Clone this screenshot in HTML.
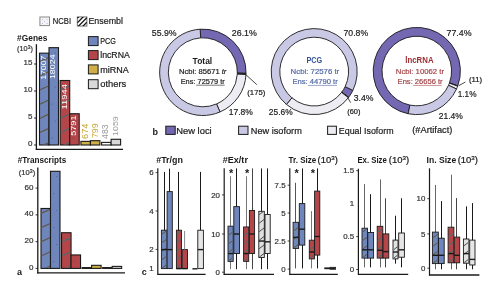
<!DOCTYPE html>
<html><head><meta charset="utf-8"><style>
html,body{margin:0;padding:0;background:#fff;}
body{width:499px;height:296px;overflow:hidden;}
svg{display:block;font-family:"Liberation Sans",sans-serif;}
</style></head><body>
<svg width="499" height="296" viewBox="0 0 499 296">
<rect width="499" height="296" fill="#fff"/>
<rect x="39.9" y="17" width="9.6" height="8.6" fill="#f4f4f6" stroke="#8a8a8a" stroke-width="1"/>
<circle cx="42.3" cy="19.4" r="0.45" fill="#8080c0"/>
<circle cx="47.1" cy="19.4" r="0.45" fill="#8080c0"/>
<circle cx="44.7" cy="21.3" r="0.45" fill="#8080c0"/>
<circle cx="42.3" cy="23.2" r="0.45" fill="#8080c0"/>
<circle cx="47.1" cy="23.2" r="0.45" fill="#8080c0"/>
<text x="52.8" y="23.9" font-size="9.4" font-weight="normal" fill="#1a1a1a" text-anchor="start" stroke="#1a1a1a" stroke-width="0.2" textLength="18.2" lengthAdjust="spacingAndGlyphs">NCBI</text>
<rect x="77.3" y="16.9" width="9.6" height="9.2" fill="#ffffff" stroke="#666" stroke-width="0.9"/>
<clipPath id="c8"><rect x="77.3" y="16.9" width="9.6" height="9.2"/></clipPath>
<g clip-path="url(#c8)" stroke="#111" stroke-width="1.3" stroke-opacity="1">
<line x1="77.3" y1="18.3" x2="86.9" y2="8.7"/>
<line x1="77.3" y1="22.8" x2="86.9" y2="13.2"/>
<line x1="77.3" y1="27.3" x2="86.9" y2="17.7"/>
<line x1="77.3" y1="31.8" x2="86.9" y2="22.2"/>
<line x1="77.3" y1="36.3" x2="86.9" y2="26.7"/>
</g>
<text x="88.4" y="23.9" font-size="9.4" font-weight="normal" fill="#1a1a1a" text-anchor="start" stroke="#1a1a1a" stroke-width="0.2" textLength="34.6" lengthAdjust="spacingAndGlyphs">Ensembl</text>
<rect x="88.4" y="36.6" width="9.7" height="9" fill="#6e86bb" stroke="#1a1a1a" stroke-width="1"/>
<text x="100.2" y="43.8" font-size="9.4" font-weight="normal" fill="#1a1a1a" text-anchor="start" stroke="#1a1a1a" stroke-width="0.2" textLength="15.7" lengthAdjust="spacingAndGlyphs">PCG</text>
<rect x="88.4" y="50.6" width="9.7" height="9" fill="#b4464a" stroke="#1a1a1a" stroke-width="1"/>
<text x="100.2" y="57.8" font-size="9.4" font-weight="normal" fill="#1a1a1a" text-anchor="start" stroke="#1a1a1a" stroke-width="0.2" textLength="29.6" lengthAdjust="spacingAndGlyphs">lncRNA</text>
<rect x="88.4" y="64.9" width="9.7" height="9" fill="#cfae45" stroke="#1a1a1a" stroke-width="1"/>
<text x="100.2" y="72.8" font-size="9.4" font-weight="normal" fill="#1a1a1a" text-anchor="start" stroke="#1a1a1a" stroke-width="0.2" textLength="28.5" lengthAdjust="spacingAndGlyphs">miRNA</text>
<rect x="88.4" y="79.7" width="9.7" height="9" fill="#d9d9d9" stroke="#1a1a1a" stroke-width="1"/>
<text x="100.2" y="87.4" font-size="9.4" font-weight="normal" fill="#1a1a1a" text-anchor="start" stroke="#1a1a1a" stroke-width="0.2" textLength="26" lengthAdjust="spacingAndGlyphs">others</text>
<text x="17.1" y="41.3" font-size="8.9" font-weight="bold" fill="#1a1a1a" text-anchor="start" textLength="30.3" lengthAdjust="spacingAndGlyphs">#Genes</text>
<text x="17.1" y="51" font-size="7.8" font-weight="normal" fill="#333" text-anchor="start" stroke="#333" stroke-width="0.2" textLength="15.8" lengthAdjust="spacingAndGlyphs">(10<tspan font-size="5.4" dy="-2.0">3</tspan><tspan dy="2.0">)</tspan></text>
<line x1="36.4" y1="44.2" x2="36.4" y2="149.9" stroke="#1a1a1a" stroke-width="1.3"/>
<line x1="35.8" y1="149.3" x2="123" y2="149.3" stroke="#1a1a1a" stroke-width="1.3"/>
<line x1="34" y1="64" x2="36.2" y2="64" stroke="#1a1a1a" stroke-width="0.9"/>
<text x="32.4" y="65.1" font-size="8.0" font-weight="normal" fill="#333" text-anchor="end" stroke="#333" stroke-width="0.2">15</text>
<line x1="34" y1="91" x2="36.2" y2="91" stroke="#1a1a1a" stroke-width="0.9"/>
<text x="32.4" y="92.1" font-size="8.0" font-weight="normal" fill="#333" text-anchor="end" stroke="#333" stroke-width="0.2">10</text>
<line x1="34" y1="118" x2="36.2" y2="118" stroke="#1a1a1a" stroke-width="0.9"/>
<text x="32.4" y="119.1" font-size="8.0" font-weight="normal" fill="#333" text-anchor="end" stroke="#333" stroke-width="0.2">5</text>
<line x1="34" y1="145" x2="36.2" y2="145" stroke="#1a1a1a" stroke-width="0.9"/>
<text x="32.4" y="146.1" font-size="8.0" font-weight="normal" fill="#333" text-anchor="end" stroke="#333" stroke-width="0.2">0</text>
<rect x="39.5" y="53.16" width="9.5" height="91.84" fill="#6e86bb" stroke="#1a1a1a" stroke-width="1.1"/>
<clipPath id="c38"><rect x="40.05" y="53.71" width="8.4" height="90.74"/></clipPath>
<g clip-path="url(#c38)" stroke="#c8c8c8" stroke-width="1.15" stroke-opacity="0.7" style="mix-blend-mode:difference">
<line x1="39.5" y1="61.7" x2="49" y2="57.3"/>
<line x1="39.5" y1="75.9" x2="49" y2="71.5"/>
<line x1="39.5" y1="90.1" x2="49" y2="85.7"/>
<line x1="39.5" y1="104.3" x2="49" y2="99.9"/>
<line x1="39.5" y1="118.5" x2="49" y2="114.1"/>
<line x1="39.5" y1="132.7" x2="49" y2="128.3"/>
<line x1="39.5" y1="146.9" x2="49" y2="142.5"/>
</g>
<rect x="49" y="47.67" width="9.5" height="97.33" fill="#6e86bb" stroke="#1a1a1a" stroke-width="1.1"/>
<circle cx="52.33" cy="138" r="0.5" fill="#334" fill-opacity="0.55"/>
<circle cx="55.17" cy="121" r="0.5" fill="#334" fill-opacity="0.55"/>
<circle cx="52.33" cy="104" r="0.5" fill="#334" fill-opacity="0.55"/>
<circle cx="55.17" cy="87" r="0.5" fill="#334" fill-opacity="0.55"/>
<circle cx="52.33" cy="70" r="0.5" fill="#334" fill-opacity="0.55"/>
<circle cx="55.17" cy="53" r="0.5" fill="#334" fill-opacity="0.55"/>
<rect x="60.2" y="80.5" width="9.5" height="64.5" fill="#b4464a" stroke="#1a1a1a" stroke-width="1.1"/>
<clipPath id="c56"><rect x="60.75" y="81.05" width="8.4" height="63.4"/></clipPath>
<g clip-path="url(#c56)" stroke="#c8c8c8" stroke-width="1.15" stroke-opacity="0.7" style="mix-blend-mode:difference">
<line x1="60.2" y1="90.1" x2="69.7" y2="85.7"/>
<line x1="60.2" y1="104.3" x2="69.7" y2="99.9"/>
<line x1="60.2" y1="118.5" x2="69.7" y2="114.1"/>
<line x1="60.2" y1="132.7" x2="69.7" y2="128.3"/>
<line x1="60.2" y1="146.9" x2="69.7" y2="142.5"/>
</g>
<rect x="69.7" y="113.73" width="9.5" height="31.27" fill="#b4464a" stroke="#1a1a1a" stroke-width="1.1"/>
<circle cx="73.03" cy="138" r="0.5" fill="#334" fill-opacity="0.55"/>
<circle cx="75.88" cy="121" r="0.5" fill="#334" fill-opacity="0.55"/>
<rect x="80.9" y="141.36" width="9.5" height="3.64" fill="#cfae45" stroke="#1a1a1a" stroke-width="1.1"/>
<rect x="90.4" y="140.69" width="9.5" height="4.31" fill="#cfae45" stroke="#1a1a1a" stroke-width="1.1"/>
<rect x="101.6" y="142.39" width="9.5" height="2.61" fill="#fafafa" stroke="#1a1a1a" stroke-width="1.1"/>
<rect x="111.1" y="139.28" width="9.5" height="5.72" fill="#d9d9d9" stroke="#1a1a1a" stroke-width="1.1"/>
<text transform="translate(45.8,79.8) rotate(-90)" x="0" y="0" font-size="7.4" fill="#ffffff" textLength="24.2" lengthAdjust="spacingAndGlyphs">17007</text>
<text transform="translate(55.2,79.1) rotate(-90)" x="0" y="0" font-size="7.4" fill="#ffffff" textLength="24.7" lengthAdjust="spacingAndGlyphs">18024</text>
<text transform="translate(67.2,109.4) rotate(-90)" x="0" y="0" font-size="7.4" fill="#ffffff" textLength="25.3" lengthAdjust="spacingAndGlyphs">11944</text>
<text transform="translate(76.3,135.8) rotate(-90)" x="0" y="0" font-size="7.4" fill="#ffffff" textLength="20.3" lengthAdjust="spacingAndGlyphs">5791</text>
<text transform="translate(88,138.9) rotate(-90)" x="0" y="0" font-size="8.6" fill="#c9a93a" textLength="15.4" lengthAdjust="spacingAndGlyphs">674</text>
<text transform="translate(97.8,138.1) rotate(-90)" x="0" y="0" font-size="8.6" fill="#c9a93a" textLength="14.6" lengthAdjust="spacingAndGlyphs">799</text>
<text transform="translate(108,138.9) rotate(-90)" x="0" y="0" font-size="8.6" fill="#9a9a9a" textLength="14.6" lengthAdjust="spacingAndGlyphs">483</text>
<text transform="translate(117.7,136) rotate(-90)" x="0" y="0" font-size="8.0" fill="#9a9a9a" textLength="19.8" lengthAdjust="spacingAndGlyphs">1059</text>
<text x="17.7" y="162.9" font-size="8.9" font-weight="bold" fill="#1a1a1a" text-anchor="start" textLength="48.5" lengthAdjust="spacingAndGlyphs">#Transcripts</text>
<text x="18.8" y="175.2" font-size="7.8" font-weight="normal" fill="#333" text-anchor="start" stroke="#333" stroke-width="0.2" textLength="16.4" lengthAdjust="spacingAndGlyphs">(10<tspan font-size="5.4" dy="-2.0">3</tspan><tspan dy="2.0">)</tspan></text>
<line x1="37.8" y1="167.4" x2="37.8" y2="273.4" stroke="#1a1a1a" stroke-width="1.3"/>
<line x1="37.2" y1="272.8" x2="125" y2="272.8" stroke="#1a1a1a" stroke-width="1.3"/>
<line x1="35.6" y1="188.12" x2="37.8" y2="188.12" stroke="#1a1a1a" stroke-width="0.9"/>
<text x="33.4" y="189.62" font-size="8.0" font-weight="normal" fill="#333" text-anchor="end" stroke="#333" stroke-width="0.2">60</text>
<line x1="35.6" y1="214.88" x2="37.8" y2="214.88" stroke="#1a1a1a" stroke-width="0.9"/>
<text x="33.4" y="216.38" font-size="8.0" font-weight="normal" fill="#333" text-anchor="end" stroke="#333" stroke-width="0.2">40</text>
<line x1="35.6" y1="241.64" x2="37.8" y2="241.64" stroke="#1a1a1a" stroke-width="0.9"/>
<text x="33.4" y="243.14" font-size="8.0" font-weight="normal" fill="#333" text-anchor="end" stroke="#333" stroke-width="0.2">20</text>
<line x1="35.6" y1="268.4" x2="37.8" y2="268.4" stroke="#1a1a1a" stroke-width="0.9"/>
<text x="33.4" y="269.9" font-size="8.0" font-weight="normal" fill="#333" text-anchor="end" stroke="#333" stroke-width="0.2">0</text>
<rect x="41" y="208.47" width="9.5" height="59.93" fill="#6e86bb" stroke="#1a1a1a" stroke-width="1.1"/>
<clipPath id="c92"><rect x="41.55" y="209.02" width="8.4" height="58.83"/></clipPath>
<g clip-path="url(#c92)" stroke="#c8c8c8" stroke-width="1.15" stroke-opacity="0.7" style="mix-blend-mode:difference">
<line x1="41" y1="213.5" x2="50.5" y2="209.1"/>
<line x1="41" y1="227.7" x2="50.5" y2="223.3"/>
<line x1="41" y1="241.9" x2="50.5" y2="237.5"/>
<line x1="41" y1="256.1" x2="50.5" y2="251.7"/>
<line x1="41" y1="270.3" x2="50.5" y2="265.9"/>
</g>
<rect x="50.5" y="171.29" width="9.5" height="97.11" fill="#6e86bb" stroke="#1a1a1a" stroke-width="1.1"/>
<circle cx="53.83" cy="261.4" r="0.5" fill="#334" fill-opacity="0.55"/>
<circle cx="56.67" cy="244.4" r="0.5" fill="#334" fill-opacity="0.55"/>
<circle cx="53.83" cy="227.4" r="0.5" fill="#334" fill-opacity="0.55"/>
<circle cx="56.67" cy="210.4" r="0.5" fill="#334" fill-opacity="0.55"/>
<circle cx="53.83" cy="193.4" r="0.5" fill="#334" fill-opacity="0.55"/>
<circle cx="56.67" cy="176.4" r="0.5" fill="#334" fill-opacity="0.55"/>
<rect x="61.55" y="232.73" width="9.5" height="35.67" fill="#b4464a" stroke="#1a1a1a" stroke-width="1.1"/>
<clipPath id="c108"><rect x="62.1" y="233.28" width="8.4" height="34.57"/></clipPath>
<g clip-path="url(#c108)" stroke="#c8c8c8" stroke-width="1.15" stroke-opacity="0.7" style="mix-blend-mode:difference">
<line x1="61.55" y1="241.9" x2="71.05" y2="237.5"/>
<line x1="61.55" y1="256.1" x2="71.05" y2="251.7"/>
<line x1="61.55" y1="270.3" x2="71.05" y2="265.9"/>
</g>
<rect x="71.05" y="254.94" width="9.5" height="13.46" fill="#b4464a" stroke="#1a1a1a" stroke-width="1.1"/>
<circle cx="74.38" cy="261.4" r="0.5" fill="#334" fill-opacity="0.55"/>
<rect x="82.1" y="267.6" width="9.5" height="0.8" fill="#cfae45" stroke="#1a1a1a" stroke-width="1.1"/>
<rect x="91.6" y="265.32" width="9.5" height="3.08" fill="#cfae45" stroke="#1a1a1a" stroke-width="1.1"/>
<rect x="102.65" y="267.6" width="9.5" height="0.8" fill="#fafafa" stroke="#1a1a1a" stroke-width="1.1"/>
<rect x="112.15" y="266.39" width="9.5" height="2.01" fill="#d9d9d9" stroke="#1a1a1a" stroke-width="1.1"/>
<text x="17" y="275.2" font-size="9" font-weight="bold" fill="#1a1a1a" text-anchor="start">a</text>
<path d="M200.14,29.19 A43.2,43.2 0 0 1 246.04,73.36 L237.34,73.14 A34.5,34.5 0 0 0 200.68,37.87 Z" fill="#7568b2" stroke="#1a1a1a" stroke-width="0.9" stroke-linejoin="miter"/>
<path d="M246.04,73.36 A43.2,43.2 0 0 1 245.99,74.56 L237.3,74.11 A34.5,34.5 0 0 0 237.34,73.14 Z" fill="#333" stroke="#1a1a1a" stroke-width="0.9" stroke-linejoin="miter"/>
<path d="M245.99,74.56 A43.2,43.2 0 0 1 220.01,111.95 L216.55,103.96 A34.5,34.5 0 0 0 237.3,74.11 Z" fill="#ececf2" stroke="#1a1a1a" stroke-width="0.9" stroke-linejoin="miter"/>
<path d="M220.01,111.95 A43.2,43.2 0 1 1 200.14,29.19 L200.68,37.87 A34.5,34.5 0 1 0 216.55,103.96 Z" fill="#c9c9e5" stroke="#1a1a1a" stroke-width="0.9" stroke-linejoin="miter"/>
<path d="M352.88,90.38 A43.0,43.0 0 0 1 348.63,97.36 L341.75,92.21 A34.4,34.4 0 0 0 345.14,86.63 Z" fill="#7568b2" stroke="#1a1a1a" stroke-width="0.9" stroke-linejoin="miter"/>
<path d="M348.63,97.36 A43.0,43.0 0 0 1 348.41,97.66 L341.56,92.45 A34.4,34.4 0 0 0 341.75,92.21 Z" fill="#333" stroke="#1a1a1a" stroke-width="0.9" stroke-linejoin="miter"/>
<path d="M348.41,97.66 A43.0,43.0 0 0 1 286.39,104.39 L291.95,97.84 A34.4,34.4 0 0 0 341.56,92.45 Z" fill="#ececf2" stroke="#1a1a1a" stroke-width="0.9" stroke-linejoin="miter"/>
<path d="M286.39,104.39 A43.0,43.0 0 1 1 352.88,90.38 L345.14,86.63 A34.4,34.4 0 1 0 291.95,97.84 Z" fill="#c9c9e5" stroke="#1a1a1a" stroke-width="0.9" stroke-linejoin="miter"/>
<path d="M408.18,113.74 A43.6,43.6 0 1 1 457.76,85.94 L449.49,82.93 A34.8,34.8 0 1 0 409.92,105.11 Z" fill="#7568b2" stroke="#1a1a1a" stroke-width="0.9" stroke-linejoin="miter"/>
<path d="M457.76,85.94 A43.6,43.6 0 0 1 457.67,86.2 L449.42,83.13 A34.8,34.8 0 0 0 449.49,82.93 Z" fill="#333" stroke="#1a1a1a" stroke-width="0.9" stroke-linejoin="miter"/>
<path d="M457.67,86.2 A43.6,43.6 0 0 1 456.52,88.98 L448.5,85.35 A34.8,34.8 0 0 0 449.42,83.13 Z" fill="#ececf2" stroke="#1a1a1a" stroke-width="0.9" stroke-linejoin="miter"/>
<path d="M456.52,88.98 A43.6,43.6 0 0 1 408.18,113.74 L409.92,105.11 A34.8,34.8 0 0 0 448.5,85.35 Z" fill="#c9c9e5" stroke="#1a1a1a" stroke-width="0.9" stroke-linejoin="miter"/>
<line x1="245.3" y1="74.2" x2="256.8" y2="84.6" stroke="#1a1a1a" stroke-width="0.8"/>
<line x1="347.7" y1="97.7" x2="350.7" y2="102.7" stroke="#1a1a1a" stroke-width="0.8"/>
<line x1="458.8" y1="85.7" x2="465.4" y2="82" stroke="#1a1a1a" stroke-width="0.8"/>
<text x="151.8" y="35.8" font-size="9.8" font-weight="normal" fill="#1a1a1a" text-anchor="start" stroke="#1a1a1a" stroke-width="0.2" textLength="24.8" lengthAdjust="spacingAndGlyphs">55.9%</text>
<text x="231.8" y="35.8" font-size="9.8" font-weight="normal" fill="#1a1a1a" text-anchor="start" stroke="#1a1a1a" stroke-width="0.2" textLength="25.1" lengthAdjust="spacingAndGlyphs">26.1%</text>
<text x="247.3" y="95.3" font-size="7.8" font-weight="normal" fill="#1a1a1a" text-anchor="start" stroke="#1a1a1a" stroke-width="0.2" textLength="18" lengthAdjust="spacingAndGlyphs">(175)</text>
<text x="228.8" y="115" font-size="9.8" font-weight="normal" fill="#1a1a1a" text-anchor="start" stroke="#1a1a1a" stroke-width="0.2" textLength="24.1" lengthAdjust="spacingAndGlyphs">17.8%</text>
<text x="343.5" y="35.8" font-size="9.8" font-weight="normal" fill="#1a1a1a" text-anchor="start" stroke="#1a1a1a" stroke-width="0.2" textLength="24.6" lengthAdjust="spacingAndGlyphs">70.8%</text>
<text x="353.8" y="100.6" font-size="9.8" font-weight="normal" fill="#1a1a1a" text-anchor="start" stroke="#1a1a1a" stroke-width="0.2" textLength="19.7" lengthAdjust="spacingAndGlyphs">3.4%</text>
<text x="347.2" y="113.6" font-size="7.8" font-weight="normal" fill="#1a1a1a" text-anchor="start" stroke="#1a1a1a" stroke-width="0.2" textLength="13.2" lengthAdjust="spacingAndGlyphs">(60)</text>
<text x="268.8" y="114.8" font-size="9.8" font-weight="normal" fill="#1a1a1a" text-anchor="start" stroke="#1a1a1a" stroke-width="0.2" textLength="23.8" lengthAdjust="spacingAndGlyphs">25.6%</text>
<text x="446.5" y="36.1" font-size="9.8" font-weight="normal" fill="#1a1a1a" text-anchor="start" stroke="#1a1a1a" stroke-width="0.2" textLength="25.1" lengthAdjust="spacingAndGlyphs">77.4%</text>
<text x="468.9" y="81.7" font-size="7.8" font-weight="normal" fill="#1a1a1a" text-anchor="start" stroke="#1a1a1a" stroke-width="0.2" textLength="13.2" lengthAdjust="spacingAndGlyphs">(11)</text>
<text x="457.7" y="96.8" font-size="9.8" font-weight="normal" fill="#1a1a1a" text-anchor="start" stroke="#1a1a1a" stroke-width="0.2" textLength="18.8" lengthAdjust="spacingAndGlyphs">1.1%</text>
<text x="438.7" y="119.2" font-size="9.8" font-weight="normal" fill="#1a1a1a" text-anchor="start" stroke="#1a1a1a" stroke-width="0.2" textLength="24.1" lengthAdjust="spacingAndGlyphs">21.4%</text>
<text x="192.6" y="63.5" font-size="9.4" font-weight="bold" fill="#1a1a1a" text-anchor="start" textLength="19.6" lengthAdjust="spacingAndGlyphs">Total</text>
<text x="179" y="73.6" font-size="7.2" font-weight="normal" fill="#222" text-anchor="start" stroke="#222" stroke-width="0.2" textLength="47.4" lengthAdjust="spacingAndGlyphs">Ncbi: 85671 <tspan font-style="italic">tr</tspan></text>
<text x="180.7" y="83.8" font-size="7.2" font-weight="normal" fill="#222" text-anchor="start" stroke="#222" stroke-width="0.2" textLength="44" lengthAdjust="spacingAndGlyphs">Ens: 72579 tr</text>
<line x1="196.2" y1="85.2" x2="224.7" y2="85.2" stroke="#222" stroke-width="0.6"/>
<text x="306.4" y="63.2" font-size="9.4" font-weight="bold" fill="#34529a" text-anchor="start" textLength="15.8" lengthAdjust="spacingAndGlyphs">PCG</text>
<text x="290.6" y="73.9" font-size="7.2" font-weight="normal" fill="#536aa6" text-anchor="start" stroke="#536aa6" stroke-width="0.2" textLength="48.6" lengthAdjust="spacingAndGlyphs">Ncbi: 72576 tr</text>
<text x="292.4" y="84.2" font-size="7.2" font-weight="normal" fill="#536aa6" text-anchor="start" stroke="#536aa6" stroke-width="0.2" textLength="45.4" lengthAdjust="spacingAndGlyphs">Ens: 44790 tr</text>
<line x1="308" y1="85.4" x2="337" y2="85.4" stroke="#536aa6" stroke-width="0.6"/>
<text x="405.3" y="63.2" font-size="9.4" font-weight="bold" fill="#9c2c31" text-anchor="start" textLength="28.3" lengthAdjust="spacingAndGlyphs">lncRNA</text>
<text x="395.8" y="74.2" font-size="7.2" font-weight="normal" fill="#a4474b" text-anchor="start" stroke="#a4474b" stroke-width="0.2" textLength="48.2" lengthAdjust="spacingAndGlyphs">Ncbi: 10062 tr</text>
<text x="397.6" y="84.2" font-size="7.2" font-weight="normal" fill="#a4474b" text-anchor="start" stroke="#a4474b" stroke-width="0.2" textLength="45" lengthAdjust="spacingAndGlyphs">Ens: 26656 tr</text>
<line x1="413.1" y1="85.4" x2="441.8" y2="85.4" stroke="#a4474b" stroke-width="0.6"/>
<text x="152.5" y="135.4" font-size="9" font-weight="bold" fill="#1a1a1a" text-anchor="start">b</text>
<rect x="165.8" y="126.2" width="9.4" height="8.2" fill="#7568b2" stroke="#1a1a1a" stroke-width="1"/>
<text x="176.2" y="133.6" font-size="9.4" font-weight="normal" fill="#1a1a1a" text-anchor="start" stroke="#1a1a1a" stroke-width="0.2" textLength="35.5" lengthAdjust="spacingAndGlyphs">New loci</text>
<rect x="238.6" y="126.2" width="9.4" height="8.2" fill="#c9c9e5" stroke="#1a1a1a" stroke-width="1"/>
<text x="250.8" y="133.6" font-size="9.4" font-weight="normal" fill="#1a1a1a" text-anchor="start" stroke="#1a1a1a" stroke-width="0.2" textLength="51" lengthAdjust="spacingAndGlyphs">New isoform</text>
<rect x="327.6" y="126.2" width="8.8" height="8.2" fill="#ececf2" stroke="#1a1a1a" stroke-width="1"/>
<text x="338.8" y="133.6" font-size="9.4" font-weight="normal" fill="#1a1a1a" text-anchor="start" stroke="#1a1a1a" stroke-width="0.2" textLength="54.8" lengthAdjust="spacingAndGlyphs">Equal Isoform</text>
<text x="412.3" y="133.2" font-size="9.4" font-weight="normal" fill="#1a1a1a" text-anchor="start" stroke="#1a1a1a" stroke-width="0.2" textLength="40" lengthAdjust="spacingAndGlyphs">(#Artifact)</text>
<text x="141.8" y="274.7" font-size="9" font-weight="bold" fill="#1a1a1a" text-anchor="start">c</text>
<line x1="157.8" y1="168.2" x2="157.8" y2="274.8" stroke="#1a1a1a" stroke-width="1.2"/>
<line x1="157.3" y1="274.3" x2="205.6" y2="274.3" stroke="#1a1a1a" stroke-width="1.3"/>
<line x1="155.6" y1="172.6" x2="157.8" y2="172.6" stroke="#1a1a1a" stroke-width="0.8"/>
<text x="153.6" y="175.2" font-size="7.9" font-weight="normal" fill="#333" text-anchor="end" stroke="#333" stroke-width="0.2">6</text>
<line x1="155.6" y1="211" x2="157.8" y2="211" stroke="#1a1a1a" stroke-width="0.8"/>
<text x="153.6" y="213.6" font-size="7.9" font-weight="normal" fill="#333" text-anchor="end" stroke="#333" stroke-width="0.2">4</text>
<line x1="155.6" y1="249.4" x2="157.8" y2="249.4" stroke="#1a1a1a" stroke-width="0.8"/>
<text x="153.6" y="252" font-size="7.9" font-weight="normal" fill="#333" text-anchor="end" stroke="#333" stroke-width="0.2">2</text>
<text x="153.6" y="271.2" font-size="7.9" font-weight="normal" fill="#333" text-anchor="end" stroke="#333" stroke-width="0.2">1</text>
<text x="156.2" y="162.6" font-size="8.9" font-weight="bold" fill="#1a1a1a" text-anchor="start" textLength="26.7" lengthAdjust="spacingAndGlyphs">#Tr/gn</text>
<line x1="164.5" y1="171.9" x2="164.5" y2="268.6" stroke="#1a1a1a" stroke-width="1.0"/>
<rect x="161.4" y="230.2" width="5.7" height="38.4" fill="#6e86bb" stroke="#1a1a1a" stroke-width="0.9"/>
<clipPath id="c181"><rect x="161.85" y="230.65" width="4.8" height="37.5"/></clipPath>
<g clip-path="url(#c181)" stroke="#c8c8c8" stroke-width="1.0" stroke-opacity="0.75" style="mix-blend-mode:difference">
<line x1="161.4" y1="234.6" x2="167.1" y2="230.4"/>
<line x1="161.4" y1="243.1" x2="167.1" y2="238.9"/>
<line x1="161.4" y1="251.6" x2="167.1" y2="247.4"/>
<line x1="161.4" y1="260.1" x2="167.1" y2="255.9"/>
<line x1="161.4" y1="268.6" x2="167.1" y2="264.4"/>
</g>
<line x1="161.4" y1="249.6" x2="167.1" y2="249.6" stroke="#1a1a1a" stroke-width="1.4"/>
<line x1="169.5" y1="168.6" x2="169.5" y2="268.6" stroke="#1a1a1a" stroke-width="1.0"/>
<rect x="167.1" y="191.6" width="5.2" height="77" fill="#6e86bb" stroke="#1a1a1a" stroke-width="0.9"/>
<line x1="167.1" y1="249.6" x2="172.3" y2="249.6" stroke="#1a1a1a" stroke-width="1.4"/>
<line x1="178.5" y1="171.9" x2="178.5" y2="268.6" stroke="#1a1a1a" stroke-width="1.0"/>
<rect x="176.4" y="230.2" width="5.1" height="38.4" fill="#b4464a" stroke="#1a1a1a" stroke-width="0.9"/>
<clipPath id="c195"><rect x="176.85" y="230.65" width="4.2" height="37.5"/></clipPath>
<g clip-path="url(#c195)" stroke="#c8c8c8" stroke-width="1.0" stroke-opacity="0.75" style="mix-blend-mode:difference">
<line x1="176.4" y1="234.6" x2="181.5" y2="230.4"/>
<line x1="176.4" y1="243.1" x2="181.5" y2="238.9"/>
<line x1="176.4" y1="251.6" x2="181.5" y2="247.4"/>
<line x1="176.4" y1="260.1" x2="181.5" y2="255.9"/>
<line x1="176.4" y1="268.6" x2="181.5" y2="264.4"/>
</g>
<line x1="176.4" y1="268.6" x2="181.5" y2="268.6" stroke="#1a1a1a" stroke-width="1.4"/>
<line x1="184.5" y1="249.6" x2="184.5" y2="268.6" stroke="#1a1a1a" stroke-width="1.0"/>
<rect x="182.2" y="249.6" width="5.3" height="19" fill="#b4464a" stroke="#1a1a1a" stroke-width="0.9"/>
<line x1="182.2" y1="268.6" x2="187.5" y2="268.6" stroke="#1a1a1a" stroke-width="1.4"/>
<line x1="184.6" y1="231" x2="184.6" y2="249.6" stroke="#888" stroke-width="1"/>
<line x1="192.4" y1="268.8" x2="197.4" y2="268.8" stroke="#1a1a1a" stroke-width="1.4"/>
<line x1="200.5" y1="171.9" x2="200.5" y2="268.6" stroke="#1a1a1a" stroke-width="1.0"/>
<rect x="197.8" y="230.2" width="5.6" height="38.4" fill="#e6e6e6" stroke="#1a1a1a" stroke-width="0.9"/>
<line x1="197.8" y1="249.6" x2="203.4" y2="249.6" stroke="#1a1a1a" stroke-width="1.4"/>
<line x1="224.2" y1="168.2" x2="224.2" y2="274.9" stroke="#1a1a1a" stroke-width="1.2"/>
<line x1="223.7" y1="274.4" x2="274" y2="274.4" stroke="#1a1a1a" stroke-width="1.3"/>
<line x1="222" y1="194.9" x2="224.2" y2="194.9" stroke="#1a1a1a" stroke-width="0.8"/>
<text x="220" y="197.5" font-size="7.9" font-weight="normal" fill="#333" text-anchor="end" stroke="#333" stroke-width="0.2">20</text>
<line x1="222" y1="234" x2="224.2" y2="234" stroke="#1a1a1a" stroke-width="0.8"/>
<text x="220" y="236.6" font-size="7.9" font-weight="normal" fill="#333" text-anchor="end" stroke="#333" stroke-width="0.2">10</text>
<line x1="222" y1="272.2" x2="224.2" y2="272.2" stroke="#1a1a1a" stroke-width="0.8"/>
<text x="220" y="274.8" font-size="7.9" font-weight="normal" fill="#333" text-anchor="end" stroke="#333" stroke-width="0.2">0</text>
<text x="222.8" y="162.6" font-size="8.9" font-weight="bold" fill="#1a1a1a" text-anchor="start" textLength="25.1" lengthAdjust="spacingAndGlyphs">#Ex/tr</text>
<line x1="230.5" y1="176.3" x2="230.5" y2="269.19" stroke="#777" stroke-width="1.0"/>
<rect x="228" y="226.18" width="5.2" height="35.19" fill="#6e86bb" stroke="#1a1a1a" stroke-width="0.9"/>
<clipPath id="c223"><rect x="228.45" y="226.63" width="4.3" height="34.29"/></clipPath>
<g clip-path="url(#c223)" stroke="#c8c8c8" stroke-width="1.0" stroke-opacity="0.75" style="mix-blend-mode:difference">
<line x1="228" y1="227.37" x2="233.2" y2="223.17"/>
<line x1="228" y1="235.87" x2="233.2" y2="231.67"/>
<line x1="228" y1="244.37" x2="233.2" y2="240.17"/>
<line x1="228" y1="252.87" x2="233.2" y2="248.67"/>
<line x1="228" y1="261.37" x2="233.2" y2="257.17"/>
</g>
<line x1="228" y1="253.55" x2="233.2" y2="253.55" stroke="#1a1a1a" stroke-width="1.4"/>
<line x1="236.5" y1="168.4" x2="236.5" y2="269.19" stroke="#1a1a1a" stroke-width="1.0"/>
<rect x="233.8" y="206.63" width="5.7" height="46.92" fill="#6e86bb" stroke="#1a1a1a" stroke-width="0.9"/>
<line x1="233.8" y1="234" x2="239.5" y2="234" stroke="#1a1a1a" stroke-width="1.4"/>
<line x1="246.5" y1="176.3" x2="246.5" y2="269.19" stroke="#777" stroke-width="1.0"/>
<rect x="243.6" y="226.96" width="5.1" height="34.41" fill="#b4464a" stroke="#1a1a1a" stroke-width="0.9"/>
<clipPath id="c237"><rect x="244.05" y="227.41" width="4.2" height="33.51"/></clipPath>
<g clip-path="url(#c237)" stroke="#c8c8c8" stroke-width="1.0" stroke-opacity="0.75" style="mix-blend-mode:difference">
<line x1="243.6" y1="227.37" x2="248.7" y2="223.17"/>
<line x1="243.6" y1="235.87" x2="248.7" y2="231.67"/>
<line x1="243.6" y1="244.37" x2="248.7" y2="240.17"/>
<line x1="243.6" y1="252.87" x2="248.7" y2="248.67"/>
<line x1="243.6" y1="261.37" x2="248.7" y2="257.17"/>
</g>
<line x1="243.6" y1="253.55" x2="248.7" y2="253.55" stroke="#1a1a1a" stroke-width="1.4"/>
<line x1="252.5" y1="168.4" x2="252.5" y2="269.19" stroke="#444" stroke-width="1.0"/>
<rect x="249.4" y="210.54" width="5.2" height="43.01" fill="#b4464a" stroke="#1a1a1a" stroke-width="0.9"/>
<line x1="249.4" y1="234" x2="254.6" y2="234" stroke="#1a1a1a" stroke-width="1.4"/>
<line x1="261.5" y1="168.4" x2="261.5" y2="269.19" stroke="#1a1a1a" stroke-width="1.0"/>
<rect x="258.8" y="211.32" width="5.5" height="46.14" fill="#e0e0e0" stroke="#1a1a1a" stroke-width="0.9"/>
<clipPath id="c251"><rect x="259.25" y="211.77" width="4.6" height="45.24"/></clipPath>
<g clip-path="url(#c251)" stroke="#c8c8c8" stroke-width="1.0" stroke-opacity="0.75" style="mix-blend-mode:difference">
<line x1="258.8" y1="214.96" x2="264.3" y2="210.76"/>
<line x1="258.8" y1="223.46" x2="264.3" y2="219.26"/>
<line x1="258.8" y1="231.96" x2="264.3" y2="227.76"/>
<line x1="258.8" y1="240.46" x2="264.3" y2="236.26"/>
<line x1="258.8" y1="248.96" x2="264.3" y2="244.76"/>
<line x1="258.8" y1="257.46" x2="264.3" y2="253.26"/>
</g>
<line x1="258.8" y1="241.04" x2="264.3" y2="241.04" stroke="#1a1a1a" stroke-width="1.4"/>
<line x1="267.5" y1="168.4" x2="267.5" y2="269.19" stroke="#1a1a1a" stroke-width="1.0"/>
<rect x="265" y="214.45" width="5.2" height="39.1" fill="#e6e6e6" stroke="#1a1a1a" stroke-width="0.9"/>
<line x1="265" y1="241.82" x2="270.2" y2="241.82" stroke="#1a1a1a" stroke-width="1.4"/>
<text x="229" y="177.2" font-size="11" font-weight="bold" fill="#1a1a1a" text-anchor="start">*</text>
<text x="245.1" y="177.2" font-size="11" font-weight="bold" fill="#1a1a1a" text-anchor="start">*</text>
<line x1="289.8" y1="168.2" x2="289.8" y2="274.9" stroke="#1a1a1a" stroke-width="1.2"/>
<line x1="289.3" y1="274.4" x2="337.8" y2="274.4" stroke="#1a1a1a" stroke-width="1.3"/>
<line x1="287.6" y1="185.2" x2="289.8" y2="185.2" stroke="#1a1a1a" stroke-width="0.8"/>
<text x="285.6" y="187.8" font-size="7.9" font-weight="normal" fill="#333" text-anchor="end" stroke="#333" stroke-width="0.2">7.5</text>
<line x1="287.6" y1="213" x2="289.8" y2="213" stroke="#1a1a1a" stroke-width="0.8"/>
<text x="285.6" y="215.6" font-size="7.9" font-weight="normal" fill="#333" text-anchor="end" stroke="#333" stroke-width="0.2">5</text>
<line x1="287.6" y1="241" x2="289.8" y2="241" stroke="#1a1a1a" stroke-width="0.8"/>
<text x="285.6" y="243.6" font-size="7.9" font-weight="normal" fill="#333" text-anchor="end" stroke="#333" stroke-width="0.2">2.5</text>
<line x1="287.6" y1="269.1" x2="289.8" y2="269.1" stroke="#1a1a1a" stroke-width="0.8"/>
<text x="285.6" y="271.7" font-size="7.9" font-weight="normal" fill="#333" text-anchor="end" stroke="#333" stroke-width="0.2">0</text>
<text x="288.6" y="162.6" font-size="8.9" font-weight="bold" fill="#1a1a1a" text-anchor="start" textLength="27.6" lengthAdjust="spacingAndGlyphs">Tr. Size</text>
<text x="317.6" y="162.6" font-size="8.6" font-weight="normal" fill="#1a1a1a" text-anchor="start" stroke="#1a1a1a" stroke-width="0.2" textLength="20.2" lengthAdjust="spacingAndGlyphs">(10<tspan font-size="5.6" dy="-2.4">3</tspan><tspan dy="2.4">)</tspan></text>
<line x1="295.5" y1="182.8" x2="295.5" y2="268.4" stroke="#555" stroke-width="1.0"/>
<rect x="293.1" y="222.3" width="5.5" height="26.1" fill="#6e86bb" stroke="#1a1a1a" stroke-width="0.9"/>
<clipPath id="c280"><rect x="293.55" y="222.75" width="4.6" height="25.2"/></clipPath>
<g clip-path="url(#c280)" stroke="#c8c8c8" stroke-width="1.0" stroke-opacity="0.75" style="mix-blend-mode:difference">
<line x1="293.1" y1="222.9" x2="298.6" y2="218.7"/>
<line x1="293.1" y1="231.4" x2="298.6" y2="227.2"/>
<line x1="293.1" y1="239.9" x2="298.6" y2="235.7"/>
<line x1="293.1" y1="248.4" x2="298.6" y2="244.2"/>
</g>
<line x1="293.1" y1="237.4" x2="298.6" y2="237.4" stroke="#1a1a1a" stroke-width="1.4"/>
<line x1="302.5" y1="168.4" x2="302.5" y2="268.4" stroke="#1a1a1a" stroke-width="1.0"/>
<rect x="299.3" y="203.6" width="5.5" height="41.5" fill="#6e86bb" stroke="#1a1a1a" stroke-width="0.9"/>
<line x1="299.3" y1="229.2" x2="304.8" y2="229.2" stroke="#1a1a1a" stroke-width="1.4"/>
<line x1="311.5" y1="211.1" x2="311.5" y2="268.4" stroke="#777" stroke-width="1.0"/>
<rect x="309.3" y="240.2" width="5.1" height="18.7" fill="#b4464a" stroke="#1a1a1a" stroke-width="0.9"/>
<clipPath id="c293"><rect x="309.75" y="240.65" width="4.2" height="17.8"/></clipPath>
<g clip-path="url(#c293)" stroke="#c8c8c8" stroke-width="1.0" stroke-opacity="0.75" style="mix-blend-mode:difference">
<line x1="309.3" y1="241.9" x2="314.4" y2="237.7"/>
<line x1="309.3" y1="250.4" x2="314.4" y2="246.2"/>
<line x1="309.3" y1="258.9" x2="314.4" y2="254.7"/>
</g>
<line x1="309.3" y1="252" x2="314.4" y2="252" stroke="#1a1a1a" stroke-width="1.4"/>
<line x1="317.5" y1="168.4" x2="317.5" y2="268.4" stroke="#1a1a1a" stroke-width="1.0"/>
<rect x="314.6" y="191.1" width="5.2" height="64" fill="#b4464a" stroke="#1a1a1a" stroke-width="0.9"/>
<line x1="314.6" y1="236.5" x2="319.8" y2="236.5" stroke="#1a1a1a" stroke-width="1.4"/>
<line x1="324.3" y1="268.3" x2="330" y2="268.3" stroke="#1a1a1a" stroke-width="1.8"/>
<rect x="330" y="267.2" width="5.7" height="2.2" fill="#222" stroke="#1a1a1a" stroke-width="0.6"/>
<text x="294.5" y="177.2" font-size="11" font-weight="bold" fill="#1a1a1a" text-anchor="start">*</text>
<text x="310.7" y="177.2" font-size="11" font-weight="bold" fill="#1a1a1a" text-anchor="start">*</text>
<line x1="358.4" y1="168.7" x2="358.4" y2="274.8" stroke="#1a1a1a" stroke-width="1.2"/>
<line x1="357.9" y1="274.3" x2="408.2" y2="274.3" stroke="#1a1a1a" stroke-width="1.3"/>
<line x1="356.2" y1="170.7" x2="358.4" y2="170.7" stroke="#1a1a1a" stroke-width="0.8"/>
<text x="354.2" y="173.3" font-size="7.9" font-weight="normal" fill="#333" text-anchor="end" stroke="#333" stroke-width="0.2">1.5</text>
<text x="354.2" y="205.7" font-size="7.9" font-weight="normal" fill="#333" text-anchor="end" stroke="#333" stroke-width="0.2">1</text>
<line x1="356.2" y1="236.6" x2="358.4" y2="236.6" stroke="#1a1a1a" stroke-width="0.8"/>
<text x="354.2" y="239.2" font-size="7.9" font-weight="normal" fill="#333" text-anchor="end" stroke="#333" stroke-width="0.2">0.5</text>
<line x1="356.2" y1="269.5" x2="358.4" y2="269.5" stroke="#1a1a1a" stroke-width="0.8"/>
<text x="354.2" y="272.1" font-size="7.9" font-weight="normal" fill="#333" text-anchor="end" stroke="#333" stroke-width="0.2">0</text>
<text x="357.4" y="162.6" font-size="8.9" font-weight="bold" fill="#1a1a1a" text-anchor="start" textLength="29.4" lengthAdjust="spacingAndGlyphs">Ex. Size</text>
<text x="388.8" y="162.6" font-size="8.6" font-weight="normal" fill="#1a1a1a" text-anchor="start" stroke="#1a1a1a" stroke-width="0.2" textLength="20.3" lengthAdjust="spacingAndGlyphs">(10<tspan font-size="5.6" dy="-2.4">3</tspan><tspan dy="2.4">)</tspan></text>
<line x1="364.5" y1="184.1" x2="364.5" y2="267.4" stroke="#666" stroke-width="1.0"/>
<rect x="362" y="228.2" width="5.5" height="29.9" fill="#6e86bb" stroke="#1a1a1a" stroke-width="0.9"/>
<clipPath id="c320"><rect x="362.45" y="228.65" width="4.6" height="29"/></clipPath>
<g clip-path="url(#c320)" stroke="#c8c8c8" stroke-width="1.0" stroke-opacity="0.75" style="mix-blend-mode:difference">
<line x1="362" y1="232.6" x2="367.5" y2="228.4"/>
<line x1="362" y1="241.1" x2="367.5" y2="236.9"/>
<line x1="362" y1="249.6" x2="367.5" y2="245.4"/>
<line x1="362" y1="258.1" x2="367.5" y2="253.9"/>
</g>
<line x1="362" y1="249.8" x2="367.5" y2="249.8" stroke="#1a1a1a" stroke-width="1.4"/>
<line x1="370.5" y1="194.2" x2="370.5" y2="267.4" stroke="#1a1a1a" stroke-width="1.0"/>
<rect x="367.8" y="232.5" width="5.8" height="25.6" fill="#6e86bb" stroke="#1a1a1a" stroke-width="0.9"/>
<line x1="367.8" y1="249.8" x2="373.6" y2="249.8" stroke="#1a1a1a" stroke-width="1.4"/>
<line x1="380.5" y1="179.4" x2="380.5" y2="267.4" stroke="#666" stroke-width="1.0"/>
<rect x="377.2" y="226.3" width="5.6" height="31.8" fill="#b4464a" stroke="#1a1a1a" stroke-width="0.9"/>
<clipPath id="c333"><rect x="377.65" y="226.75" width="4.7" height="30.9"/></clipPath>
<g clip-path="url(#c333)" stroke="#c8c8c8" stroke-width="1.0" stroke-opacity="0.75" style="mix-blend-mode:difference">
<line x1="377.2" y1="232.6" x2="382.8" y2="228.4"/>
<line x1="377.2" y1="241.1" x2="382.8" y2="236.9"/>
<line x1="377.2" y1="249.6" x2="382.8" y2="245.4"/>
<line x1="377.2" y1="258.1" x2="382.8" y2="253.9"/>
</g>
<line x1="377.2" y1="250.3" x2="382.8" y2="250.3" stroke="#1a1a1a" stroke-width="1.4"/>
<line x1="385.5" y1="198.3" x2="385.5" y2="267.4" stroke="#444" stroke-width="1.0"/>
<rect x="383" y="233.9" width="5.8" height="24.2" fill="#b4464a" stroke="#1a1a1a" stroke-width="0.9"/>
<line x1="383" y1="251.6" x2="388.8" y2="251.6" stroke="#1a1a1a" stroke-width="1.4"/>
<line x1="395.5" y1="215.7" x2="395.5" y2="263.7" stroke="#1a1a1a" stroke-width="1.0"/>
<rect x="393" y="240.1" width="5" height="18.8" fill="#e2e2e2" stroke="#1a1a1a" stroke-width="0.9"/>
<clipPath id="c346"><rect x="393.45" y="240.55" width="4.1" height="17.9"/></clipPath>
<g clip-path="url(#c346)" stroke="#c8c8c8" stroke-width="1.0" stroke-opacity="0.75" style="mix-blend-mode:difference">
<line x1="393" y1="241.9" x2="398" y2="237.7"/>
<line x1="393" y1="250.4" x2="398" y2="246.2"/>
<line x1="393" y1="258.9" x2="398" y2="254.7"/>
</g>
<line x1="393" y1="252" x2="398" y2="252" stroke="#1a1a1a" stroke-width="1.4"/>
<line x1="401.5" y1="198.3" x2="401.5" y2="267.4" stroke="#1a1a1a" stroke-width="1.0"/>
<rect x="398.7" y="233" width="5.7" height="24.2" fill="#e6e6e6" stroke="#1a1a1a" stroke-width="0.9"/>
<line x1="398.7" y1="249.8" x2="404.4" y2="249.8" stroke="#1a1a1a" stroke-width="1.4"/>
<line x1="429.5" y1="168.3" x2="429.5" y2="275.5" stroke="#1a1a1a" stroke-width="1.2"/>
<line x1="429" y1="275" x2="479.4" y2="275" stroke="#1a1a1a" stroke-width="1.3"/>
<line x1="427.3" y1="198.7" x2="429.5" y2="198.7" stroke="#1a1a1a" stroke-width="0.8"/>
<text x="425.3" y="201.3" font-size="7.9" font-weight="normal" fill="#333" text-anchor="end" stroke="#333" stroke-width="0.2">10</text>
<line x1="427.3" y1="233.9" x2="429.5" y2="233.9" stroke="#1a1a1a" stroke-width="0.8"/>
<text x="425.3" y="236.5" font-size="7.9" font-weight="normal" fill="#333" text-anchor="end" stroke="#333" stroke-width="0.2">5</text>
<line x1="427.3" y1="268.2" x2="429.5" y2="268.2" stroke="#1a1a1a" stroke-width="0.8"/>
<text x="425.3" y="270.8" font-size="7.9" font-weight="normal" fill="#333" text-anchor="end" stroke="#333" stroke-width="0.2">0</text>
<text x="426.6" y="162.6" font-size="8.9" font-weight="bold" fill="#1a1a1a" text-anchor="start" textLength="29.6" lengthAdjust="spacingAndGlyphs">In. Size</text>
<text x="457.7" y="162.6" font-size="8.6" font-weight="normal" fill="#1a1a1a" text-anchor="start" stroke="#1a1a1a" stroke-width="0.2" textLength="20.3" lengthAdjust="spacingAndGlyphs">(10<tspan font-size="5.6" dy="-2.4">3</tspan><tspan dy="2.4">)</tspan></text>
<line x1="435.5" y1="184.9" x2="435.5" y2="269.3" stroke="#666" stroke-width="1.0"/>
<rect x="432.4" y="232.1" width="5.9" height="31.5" fill="#6e86bb" stroke="#1a1a1a" stroke-width="0.9"/>
<clipPath id="c368"><rect x="432.85" y="232.55" width="5" height="30.6"/></clipPath>
<g clip-path="url(#c368)" stroke="#c8c8c8" stroke-width="1.0" stroke-opacity="0.75" style="mix-blend-mode:difference">
<line x1="432.4" y1="238.1" x2="438.3" y2="233.9"/>
<line x1="432.4" y1="246.6" x2="438.3" y2="242.4"/>
<line x1="432.4" y1="255.1" x2="438.3" y2="250.9"/>
<line x1="432.4" y1="263.6" x2="438.3" y2="259.4"/>
</g>
<line x1="432.4" y1="255.3" x2="438.3" y2="255.3" stroke="#1a1a1a" stroke-width="1.4"/>
<line x1="441.5" y1="201.1" x2="441.5" y2="269.3" stroke="#1a1a1a" stroke-width="1.0"/>
<rect x="438.5" y="238.2" width="5.7" height="25.4" fill="#6e86bb" stroke="#1a1a1a" stroke-width="0.9"/>
<line x1="438.5" y1="255.3" x2="444.2" y2="255.3" stroke="#1a1a1a" stroke-width="1.4"/>
<line x1="451.5" y1="174.7" x2="451.5" y2="269.3" stroke="#666" stroke-width="1.0"/>
<rect x="448.1" y="227.2" width="5.8" height="35.6" fill="#b4464a" stroke="#1a1a1a" stroke-width="0.9"/>
<clipPath id="c381"><rect x="448.55" y="227.65" width="4.9" height="34.7"/></clipPath>
<g clip-path="url(#c381)" stroke="#c8c8c8" stroke-width="1.0" stroke-opacity="0.75" style="mix-blend-mode:difference">
<line x1="448.1" y1="228.8" x2="453.9" y2="224.6"/>
<line x1="448.1" y1="237.3" x2="453.9" y2="233.1"/>
<line x1="448.1" y1="245.8" x2="453.9" y2="241.6"/>
<line x1="448.1" y1="254.3" x2="453.9" y2="250.1"/>
<line x1="448.1" y1="262.8" x2="453.9" y2="258.6"/>
</g>
<line x1="448.1" y1="253.6" x2="453.9" y2="253.6" stroke="#1a1a1a" stroke-width="1.4"/>
<line x1="456.5" y1="198.1" x2="456.5" y2="269.3" stroke="#444" stroke-width="1.0"/>
<rect x="454.2" y="237.1" width="5.5" height="25.7" fill="#b4464a" stroke="#1a1a1a" stroke-width="0.9"/>
<line x1="454.2" y1="255.3" x2="459.7" y2="255.3" stroke="#1a1a1a" stroke-width="1.4"/>
<line x1="466.5" y1="206.4" x2="466.5" y2="269.3" stroke="#1a1a1a" stroke-width="1.0"/>
<rect x="463.4" y="239" width="5.5" height="24.2" fill="#e2e2e2" stroke="#1a1a1a" stroke-width="0.9"/>
<clipPath id="c395"><rect x="463.85" y="239.45" width="4.6" height="23.3"/></clipPath>
<g clip-path="url(#c395)" stroke="#c8c8c8" stroke-width="1.0" stroke-opacity="0.75" style="mix-blend-mode:difference">
<line x1="463.4" y1="246.2" x2="468.9" y2="242"/>
<line x1="463.4" y1="254.7" x2="468.9" y2="250.5"/>
<line x1="463.4" y1="263.2" x2="468.9" y2="259"/>
</g>
<line x1="463.4" y1="253.6" x2="468.9" y2="253.6" stroke="#1a1a1a" stroke-width="1.4"/>
<line x1="472.5" y1="203.1" x2="472.5" y2="269.3" stroke="#1a1a1a" stroke-width="1.0"/>
<rect x="469.7" y="240.1" width="5.3" height="24.9" fill="#e6e6e6" stroke="#1a1a1a" stroke-width="0.9"/>
<line x1="469.7" y1="259.4" x2="475" y2="259.4" stroke="#1a1a1a" stroke-width="1.4"/>
</svg>
</body></html>
